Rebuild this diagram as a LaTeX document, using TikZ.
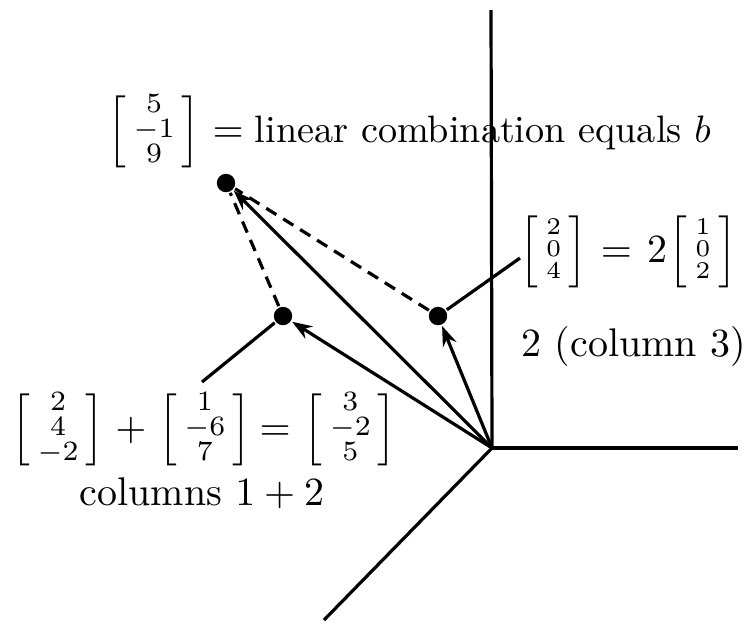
\documentclass[tikz,border=0pt]{standalone}
\usepackage{amsmath}
\usepackage{graphicx}
\usetikzlibrary{arrows.meta}
% #1 inner width, #2 font size, #3 row skip, #4-#6 entries
\newcommand{\colv}[6]{\left[\vcenter{\hbox to #1{\hss\fontsize{#2}{#3}\selectfont
  \begin{tabular}{@{}c@{}}$#4$\\$#5$\\$#6$\end{tabular}\hss}}\vcenter{\hbox{\rule{0pt}{18.5pt}}}\right]}
\newcommand{\vcol}[3]{\colv{13.8pt}{7}{6.1}{#1}{#2}{#3}}
\newcommand{\vcolt}[3]{\colv{7.6pt}{6.5}{5.6}{#1}{#2}{#3}}
\begin{document}
\begin{tikzpicture}[x=0.25pt,y=-0.25pt,line width=0.8pt,
  dot/.style={circle,fill=black,inner sep=0pt,minimum size=4.6pt},
  vec/.style={-{Stealth[length=5pt,width=3.6pt]}},
  dashline/.style={dash pattern=on 3pt off 2pt},
  lbl/.style={inner sep=0pt}]
\useasboundingbox (0,0) rectangle (746,623);
% axes
\coordinate (O) at (492,448);
\coordinate (zt) at (491,10);
\coordinate (xr) at (738,448);
\coordinate (yd) at (324,620);
\draw (O) -- (zt);
\draw (O) -- (xr);
\draw (O) -- (yd);
% points
\node[dot] (b) at (226,183) {};
\node[dot] (c12) at (283,316) {};
\node[dot] (c3) at (438,316) {};
% vectors
\draw[vec] (O) -- (b);
\draw[vec] (O) -- (c12);
\draw[vec] (O) -- (c3);
% dashed completion
\draw[dashline] (c12) -- (b);
\draw[dashline] (c3) -- (b);
% leader lines
\coordinate (l12) at (202,382);
\coordinate (l3) at (520,258);
\draw (c12) -- (l12);
\draw (c3) -- (l3);
% labels
\node[lbl,anchor=base west] (mb) at (106,142) {$\vcol{5}{-1}{9}$};
\node[lbl,anchor=base west] (tb) at (211,142) {$=\text{\scalebox{0.955}{linear combination equals $b$}}$};
\node[lbl,anchor=base west] (m3) at (518,262) {$\vcolt{2}{0}{4}\hspace{0.5pt}=\hspace{1pt}2\hspace{-1.25pt}\vcolt{1}{0}{2}$};
\node[lbl,anchor=base west] (t3) at (520,356) {2 (column 3)};
\node[lbl,anchor=base west] (m12) at (10,440) {$\vcol{2}{4}{-2}\hspace{0.5pt}+\hspace{0.75pt}\vcol{1}{-6}{7}\hspace{-0.75pt}=\hspace{0.5pt}\vcol{3}{-2}{5}$};
\node[lbl,anchor=base west] (t12) at (78,505) {columns $1+2$};
\end{tikzpicture}
\end{document}
